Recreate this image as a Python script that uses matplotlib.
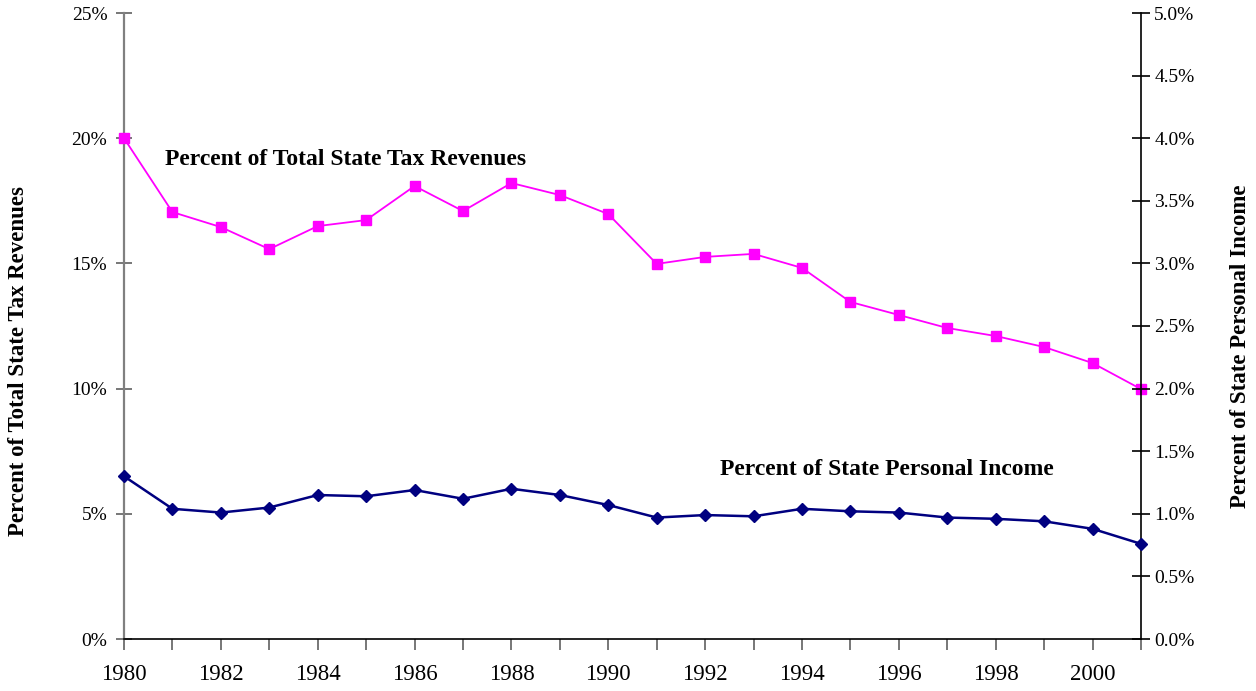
import matplotlib
matplotlib.use("Agg")
import matplotlib.pyplot as plt
from matplotlib.ticker import FixedLocator, MultipleLocator

plt.rcParams['font.family'] = ['Liberation Serif', 'DejaVu Serif']

years = list(range(1980, 2002))
tax_revenue_pct = [20.0, 17.05, 16.45, 15.57, 16.49, 16.73, 18.09, 17.09, 18.21, 17.73, 16.97,
                   14.98, 15.26, 15.38, 14.82, 13.46, 12.94, 12.42, 12.10, 11.66, 11.02, 9.98]
personal_income_pct = [1.30, 1.04, 1.01, 1.05, 1.15, 1.14, 1.19, 1.12, 1.20, 1.15, 1.07,
                       0.97, 0.99, 0.98, 1.04, 1.02, 1.01, 0.97, 0.96, 0.94, 0.88, 0.76]
left_ticks = [0, 5, 10, 15, 20, 25]
right_ticks = [0.0, 0.5, 1.0, 1.5, 2.0, 2.5, 3.0, 3.5, 4.0, 4.5, 5.0]
x_labels = list(range(1980, 2001, 2))

fig = plt.figure(figsize=(12.56, 6.91), dpi=100)
ax = fig.add_axes([124/1256, 1-639/691, (1141-124)/1256, (639-13)/691])
ax2 = ax.twinx()

ax.plot(years, tax_revenue_pct, color='#FF00FF', lw=1.3, marker='s', ms=7.5, zorder=3, clip_on=False)
ax2.plot(years, personal_income_pct, color='#000080', lw=1.8, marker='D', ms=6.5, zorder=3, clip_on=False)

ax.set_xlim(1980, 2001)
ax.set_ylim(0, 25)
ax2.set_ylim(0, 5)

ax.yaxis.set_major_locator(FixedLocator(left_ticks))
ax.set_yticklabels([f"{t}%" for t in left_ticks])
ax2.yaxis.set_major_locator(FixedLocator(right_ticks))
ax2.set_yticklabels([f"{t:.1f}%" for t in right_ticks])
ax.xaxis.set_major_locator(FixedLocator(x_labels))
ax.xaxis.set_minor_locator(MultipleLocator(1))
ax.set_xticklabels([str(y) for y in x_labels])

for s in ['top']:
    ax.spines[s].set_visible(False)
    ax2.spines[s].set_visible(False)
ax.spines['left'].set_color('#808080')
ax.spines['left'].set_linewidth(1.6)
ax2.spines['left'].set_visible(False)
ax2.spines['right'].set_color('black')
ax2.spines['right'].set_linewidth(1.2)
ax.spines['right'].set_visible(False)
ax.spines['bottom'].set_linewidth(1.2)
ax2.spines['bottom'].set_visible(False)

ax.tick_params(axis='y', direction='inout', length=12, width=1.2, labelsize=14, pad=6, color='#606060')
ax2.tick_params(axis='y', direction='inout', length=13, width=1.2, labelsize=14, pad=3, color='black')
ax.tick_params(axis='x', which='both', direction='out', length=8, width=1.2, labelsize=16.5, pad=10, color='#606060')

fig.text(19/1256, 1-361/691, 'Percent of Total State Tax Revenues', fontsize=16.5, fontweight='bold',
         rotation=90, ha='center', va='center')
fig.text(1241/1256, 1-346/691, 'Percent of State Personal Income', fontsize=16.5, fontweight='bold',
         rotation=90, ha='center', va='center')

ax.text(1980.85, 19.13, 'Percent of Total State Tax Revenues', fontsize=17, fontweight='bold', va='center', ha='left')
ax.text(1992.31, 6.75, 'Percent of State Personal Income', fontsize=17, fontweight='bold', va='center', ha='left')

fig.savefig('out.png', dpi=100)
